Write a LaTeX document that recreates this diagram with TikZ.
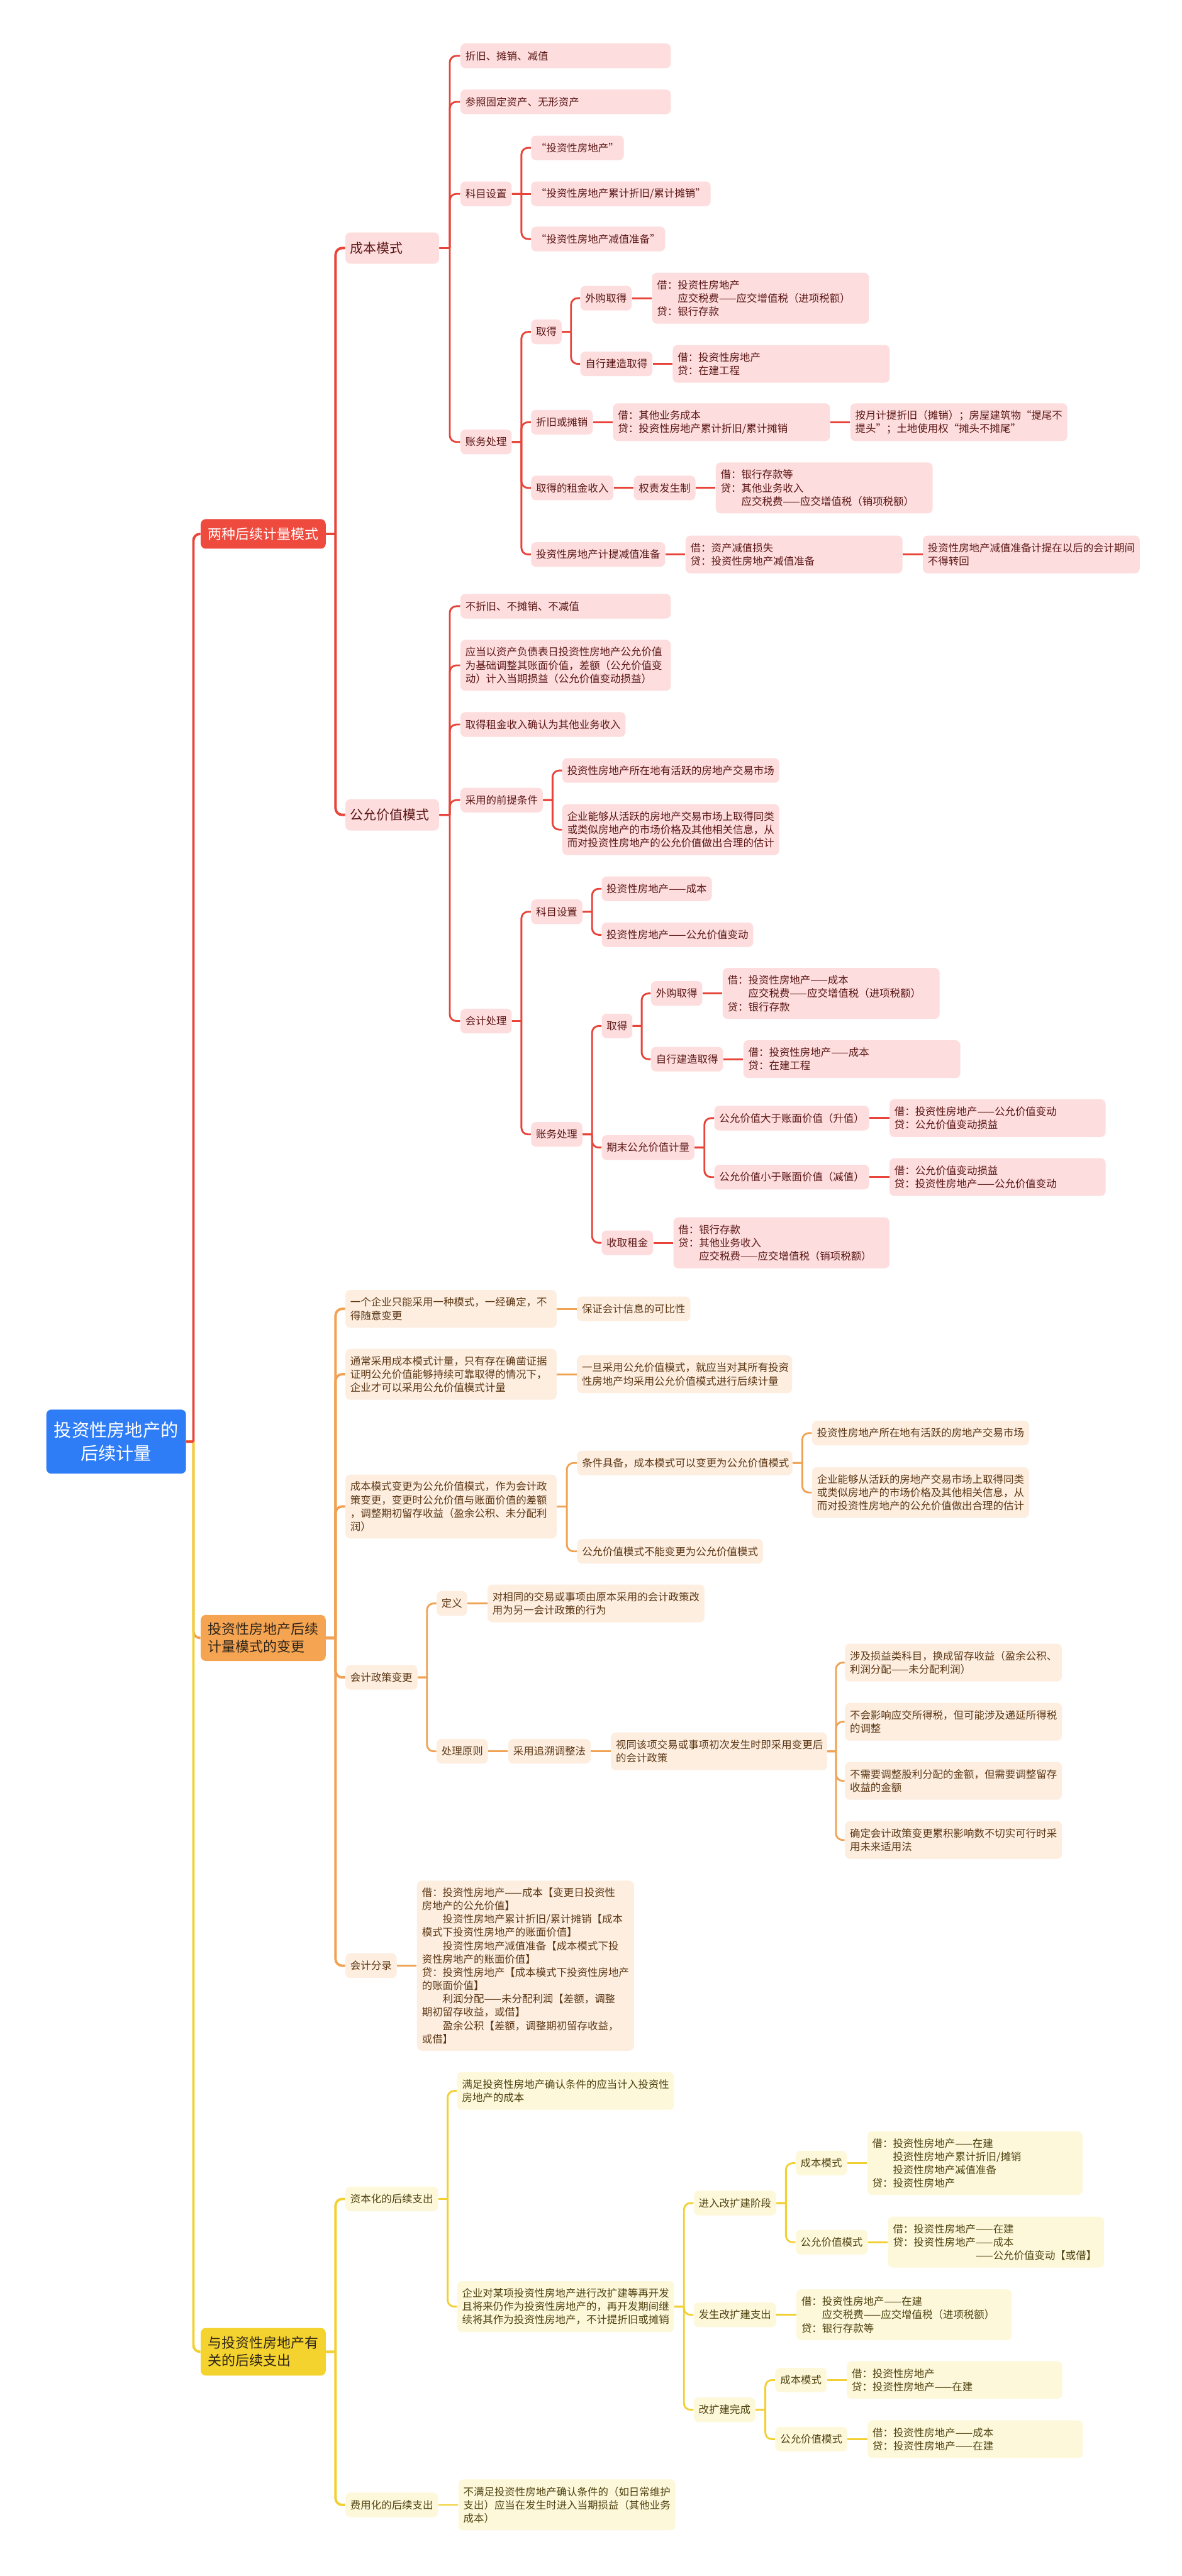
\documentclass[tikz,border=0pt]{standalone}
\usepackage{fontspec}
\setmainfont{Noto Sans CJK SC}
\usetikzlibrary{positioning, calc}
\definecolor{rootblue}{RGB}{46,125,246}
\definecolor{toptext}{RGB}{45,35,25}
\definecolor{redtop}{RGB}{239,74,62}
\definecolor{redline}{RGB}{232,68,58}
\definecolor{redfill}{RGB}{253,221,221}
\definecolor{redtext}{RGB}{92,22,22}
\definecolor{orangetop}{RGB}{245,165,82}
\definecolor{orangeline}{RGB}{240,163,85}
\definecolor{orangefill}{RGB}{253,238,224}
\definecolor{orangetext}{RGB}{92,55,20}
\definecolor{yellowtop}{RGB}{244,211,46}
\definecolor{yellowline}{RGB}{243,208,50}
\definecolor{yellowfill}{RGB}{254,248,218}
\definecolor{yellowtext}{RGB}{78,66,16}
\tikzset{
    basebox/.style={rectangle, rounded corners=3pt, anchor=west, align=left, inner xsep=3pt, inner ysep=2pt, minimum height=15pt, font=\fontsize{6.3}{8.1}\selectfont},
    redbox/.style={basebox, fill=redfill, text=redtext},
    orangebox/.style={basebox, fill=orangefill, text=orangetext},
    yellowbox/.style={basebox, fill=yellowfill, text=yellowtext},
    topbox/.style={rectangle, rounded corners=3pt, anchor=west, align=left, inner xsep=4.5pt, inner ysep=2pt, text width=67pt, font=\fontsize{8.4}{10.6}\selectfont},
    rootbox/.style={rectangle, rounded corners=3pt, anchor=west, align=center, inner xsep=4pt, text width=77pt, minimum height=39pt, fill=rootblue, text=white, font=\fontsize{10.8}{14}\selectfont},
    elbow/.style={to path={-- ($(\tikztostart)!0.5!(\tikztotarget |- \tikztostart)$) coordinate (elb) [rounded corners=4pt] (elb) |- (\tikztotarget)}},
}

\begin{document}
\begin{tikzpicture}[
    x=1pt, y=-1pt,
    redlink/.style={draw=redline, line width=1.1pt},
    orangelink/.style={draw=orangeline, line width=1.1pt},
    yellowlink/.style={draw=yellowline, line width=1.1pt},
    mainlink/.style={line width=1.5pt}
]
\path[fill=white, use as bounding box] (0,0) rectangle (719,1568);

% Root and first level
\node[rootbox] (root) at (28,877.5) {投资性房地产的\\后续计量};
\node[topbox, fill=redtop, text=white, minimum height=18pt] (twomodes) at (122,325) {两种后续计量模式};
\node[topbox, fill=orangetop, text=toptext, minimum height=28pt] (modechange) at (122,997) {投资性房地产后续\\计量模式的变更};
\node[topbox, fill=yellowtop, text=toptext, minimum height=29pt] (laterexp) at (122,1431.5) {与投资性房地产有\\关的后续支出};

% Two modes: cost mode
\node[redbox, text width=51pt, minimum height=19pt, font=\fontsize{8}{10}\selectfont] (costmode) at (210,151) {成本模式};
\node[redbox, text width=122pt] (c-depr) at (280,34) {折旧、摊销、减值};
\node[redbox, text width=122pt] (c-ref) at (280,62) {参照固定资产、无形资产};
\node[redbox] (c-acct) at (280,118) {科目设置};
\node[redbox] (c-acct1) at (323,90) {“投资性房地产”};
\node[redbox] (c-acct2) at (323,118) {“投资性房地产累计折旧/累计摊销”};
\node[redbox] (c-acct3) at (323,145.5) {“投资性房地产减值准备”};
\node[redbox] (c-book) at (280,269) {账务处理};
\node[redbox] (c-get) at (323,202) {取得};
\node[redbox] (c-buy) at (353,181.5) {外购取得};
\node[redbox, text width=126pt, minimum height=31pt, right=12pt of c-buy] (c-buy-je) {借：投资性房地产\\　　应交税费——应交增值税（进项税额）\\贷：银行存款};
\node[redbox] (c-self) at (353,221.5) {自行建造取得};
\node[redbox, text width=126pt, minimum height=23pt, right=12pt of c-self] (c-self-je) {借：投资性房地产\\贷：在建工程};
\node[redbox] (c-dep2) at (323,257) {折旧或摊销};
\node[redbox, text width=126pt, minimum height=23pt, right=12pt of c-dep2] (c-dep2-je) {借：其他业务成本\\贷：投资性房地产累计折旧/累计摊销};
\node[redbox, text width=126pt, minimum height=23pt, right=12pt of c-dep2-je] (c-dep2-note) {按月计提折旧（摊销）；房屋建筑物“提尾不\\提头”；土地使用权“摊头不摊尾”};
\node[redbox] (c-rent) at (323,297) {取得的租金收入};
\node[redbox, right=12pt of c-rent] (c-accrual) {权责发生制};
\node[redbox, text width=126pt, minimum height=31pt, right=12pt of c-accrual] (c-rent-je) {借：银行存款等\\贷：其他业务收入\\　　应交税费——应交增值税（销项税额）};
\node[redbox] (c-impair) at (323,337.5) {投资性房地产计提减值准备};
\node[redbox, text width=126pt, minimum height=23pt, right=12pt of c-impair] (c-impair-je) {借：资产减值损失\\贷：投资性房地产减值准备};
\node[redbox, text width=126pt, minimum height=23pt, right=12pt of c-impair-je] (c-impair-note) {投资性房地产减值准备计提在以后的会计期间\\不得转回};

% Two modes: fair value mode
\node[redbox, text width=51pt, minimum height=19pt, font=\fontsize{8}{10}\selectfont] (fairmode) at (210,496) {公允价值模式};
\node[redbox, text width=122pt] (f-nodep) at (280,369) {不折旧、不摊销、不减值};
\node[redbox, text width=122pt, minimum height=31pt] (f-adjust) at (280,405) {应当以资产负债表日投资性房地产公允价值\\为基础调整其账面价值，差额（公允价值变\\动）计入当期损益（公允价值变动损益）};
\node[redbox] (f-rent) at (280,441) {取得租金收入确认为其他业务收入};
\node[redbox] (f-cond) at (280,487) {采用的前提条件};
\node[redbox, text width=126pt] (f-cond1) at (342,469) {投资性房地产所在地有活跃的房地产交易市场};
\node[redbox, text width=126pt, minimum height=31pt] (f-cond2) at (342,505) {企业能够从活跃的房地产交易市场上取得同类\\或类似房地产的市场价格及其他相关信息，从\\而对投资性房地产的公允价值做出合理的估计};
\node[redbox] (f-proc) at (280,621.5) {会计处理};
\node[redbox] (f-acct) at (323,555) {科目设置};
\node[redbox] (f-acct1) at (366,541) {投资性房地产——成本};
\node[redbox] (f-acct2) at (366,569) {投资性房地产——公允价值变动};
\node[redbox] (f-book) at (323,690.5) {账务处理};
\node[redbox] (f-get) at (366,624.5) {取得};
\node[redbox] (f-buy) at (396,604.7) {外购取得};
\node[redbox, text width=126pt, minimum height=31pt, right=12pt of f-buy] (f-buy-je) {借：投资性房地产——成本\\　　应交税费——应交增值税（进项税额）\\贷：银行存款};
\node[redbox] (f-self) at (396,644.7) {自行建造取得};
\node[redbox, text width=126pt, minimum height=23pt, right=12pt of f-self] (f-self-je) {借：投资性房地产——成本\\贷：在建工程};
\node[redbox] (f-end) at (366,698.5) {期末公允价值计量};
\node[redbox] (f-up) at (434.5,680.6) {公允价值大于账面价值（升值）};
\node[redbox, text width=125.5pt, minimum height=23pt, right=12pt of f-up] (f-up-je) {借：投资性房地产——公允价值变动\\贷：公允价值变动损益};
\node[redbox] (f-down) at (434.5,716.5) {公允价值小于账面价值（减值）};
\node[redbox, text width=125.5pt, minimum height=23pt, right=12pt of f-down] (f-down-je) {借：公允价值变动损益\\贷：投资性房地产——公允价值变动};
\node[redbox] (f-rent2) at (366,756.5) {收取租金};
\node[redbox, text width=125.5pt, minimum height=31pt, right=12pt of f-rent2] (f-rent2-je) {借：银行存款\\贷：其他业务收入\\　　应交税费——应交增值税（销项税额）};

% Mode change
\node[orangebox, text width=122.5pt, minimum height=23pt] (m-one) at (210,796.7) {一个企业只能采用一种模式，一经确定，不\\得随意变更};
\node[orangebox, right=12pt of m-one] (m-one-why) {保证会计信息的可比性};
\node[orangebox, text width=122.5pt, minimum height=31pt] (m-usual) at (210,836.5) {通常采用成本模式计量，只有存在确凿证据\\证明公允价值能够持续可靠取得的情况下，\\企业才可以采用公允价值模式计量};
\node[orangebox, text width=125pt, minimum height=23pt, right=12pt of m-usual] (m-usual-all) {一旦采用公允价值模式，就应当对其所有投资\\性房地产均采用公允价值模式进行后续计量};
\node[orangebox, text width=122.5pt, minimum height=39pt] (m-change) at (210,917) {成本模式变更为公允价值模式，作为会计政\\策变更，变更时公允价值与账面价值的差额\\，调整期初留存收益（盈余公积、未分配利\\润）};
\node[orangebox, text width=125pt] (m-cond) at (351,890.5) {条件具备，成本模式可以变更为公允价值模式};
\node[orangebox, text width=126pt] (m-cond1) at (494,872.3) {投资性房地产所在地有活跃的房地产交易市场};
\node[orangebox, text width=126pt, minimum height=31pt] (m-cond2) at (494,908.5) {企业能够从活跃的房地产交易市场上取得同类\\或类似房地产的市场价格及其他相关信息，从\\而对投资性房地产的公允价值做出合理的估计};
\node[orangebox] (m-never) at (351,944.3) {公允价值模式不能变更为公允价值模式};
\node[orangebox] (m-policy) at (210,1021) {会计政策变更};
\node[orangebox] (m-def) at (265.5,976) {定义};
\node[orangebox, text width=126pt, minimum height=23pt, right=12pt of m-def] (m-def-txt) {对相同的交易或事项由原本采用的会计政策改\\用为另一会计政策的行为};
\node[orangebox] (m-rule) at (265.5,1066) {处理原则};
\node[orangebox, right=12pt of m-rule] (m-retro) {采用追溯调整法};
\node[orangebox, text width=125.5pt, minimum height=23pt, right=12pt of m-retro] (m-retro-txt) {视同该项交易或事项初次发生时即采用变更后\\的会计政策};
\node[orangebox, text width=126pt, minimum height=23pt] (m-r1) at (514,1012) {涉及损益类科目，换成留存收益（盈余公积、\\利润分配——未分配利润）};
\node[orangebox, text width=126pt, minimum height=23pt] (m-r2) at (514,1048) {不会影响应交所得税，但可能涉及递延所得税\\的调整};
\node[orangebox, text width=126pt, minimum height=23pt] (m-r3) at (514,1084) {不需要调整股利分配的金额，但需要调整留存\\收益的金额};
\node[orangebox, text width=126pt, minimum height=23pt] (m-r4) at (514,1120) {确定会计政策变更累积影响数不切实可行时采\\用未来适用法};
\node[orangebox] (m-entry) at (210,1196.5) {会计分录};
\node[orangebox, text width=126pt, minimum height=103.5pt, right=12pt of m-entry] (m-entry-je) {借：投资性房地产——成本【变更日投资性\\房地产的公允价值】\\　　投资性房地产累计折旧/累计摊销【成本\\模式下投资性房地产的账面价值】\\　　投资性房地产减值准备【成本模式下投\\资性房地产的账面价值】\\贷：投资性房地产【成本模式下投资性房地产\\的账面价值】\\　　利润分配——未分配利润【差额，调整\\期初留存收益，或借】\\　　盈余公积【差额，调整期初留存收益，\\或借】};

% Later expenditure
\node[yellowbox] (y-cap) at (210,1338.5) {资本化的后续支出};
\node[yellowbox, text width=126pt, minimum height=23pt] (y-meet) at (278,1272.7) {满足投资性房地产确认条件的应当计入投资性\\房地产的成本};
\node[yellowbox, text width=126pt, minimum height=31pt] (y-redev) at (278,1404) {企业对某项投资性房地产进行改扩建等再开发\\且将来仍作为投资性房地产的，再开发期间继\\续将其作为投资性房地产，不计提折旧或摊销};
\node[yellowbox] (y-enter) at (422,1341) {进入改扩建阶段};
\node[yellowbox] (y-enter-cost) at (484,1316.7) {成本模式};
\node[yellowbox, text width=125pt, minimum height=38.7pt, right=12pt of y-enter-cost] (y-enter-cost-je) {借：投资性房地产——在建\\　　投资性房地产累计折旧/摊销\\　　投资性房地产减值准备\\贷：投资性房地产};
\node[yellowbox] (y-enter-fair) at (484,1364.8) {公允价值模式};
\node[yellowbox, text width=125.5pt, minimum height=31pt, right=12pt of y-enter-fair] (y-enter-fair-je) {借：投资性房地产——在建\\贷：投资性房地产——成本\\\hphantom{贷：投资性房地产}——公允价值变动【或借】};
\node[yellowbox] (y-spend) at (422,1409) {发生改扩建支出};
\node[yellowbox, text width=125pt, minimum height=31pt, right=12pt of y-spend] (y-spend-je) {借：投资性房地产——在建\\　　应交税费——应交增值税（进项税额）\\贷：银行存款等};
\node[yellowbox] (y-done) at (422,1466.8) {改扩建完成};
\node[yellowbox] (y-done-cost) at (471.6,1448.7) {成本模式};
\node[yellowbox, text width=125pt, minimum height=23pt, right=12pt of y-done-cost] (y-done-cost-je) {借：投资性房地产\\贷：投资性房地产——在建};
\node[yellowbox] (y-done-fair) at (471.6,1484.7) {公允价值模式};
\node[yellowbox, text width=125pt, minimum height=23pt, right=12pt of y-done-fair] (y-done-fair-je) {借：投资性房地产——成本\\贷：投资性房地产——在建};
\node[yellowbox] (y-exp) at (210,1524.7) {费用化的后续支出};
\node[yellowbox, text width=126pt, minimum height=31pt, right=12pt of y-exp] (y-exp-txt) {不满足投资性房地产确认条件的（如日常维护\\支出）应当在发生时进入当期损益（其他业务\\成本）};

% Links from the root
\draw[orangelink, mainlink] (root.east) to[elbow] (modechange.west);
\draw[yellowlink, mainlink] (root.east) to[elbow] (laterexp.west);
\draw[redlink, mainlink] (root.east) to[elbow] (twomodes.west);

% Red links
\draw[redlink, mainlink] (twomodes.east) to[elbow] (costmode.west);
\draw[redlink, mainlink] (twomodes.east) to[elbow] (fairmode.west);
\draw[redlink] (costmode.east) to[elbow] (c-depr.west);
\draw[redlink] (costmode.east) to[elbow] (c-ref.west);
\draw[redlink] (costmode.east) to[elbow] (c-acct.west);
\draw[redlink] (costmode.east) to[elbow] (c-book.west);
\draw[redlink] (c-acct.east) to[elbow] (c-acct1.west);
\draw[redlink] (c-acct.east) -- (c-acct2.west);
\draw[redlink] (c-acct.east) to[elbow] (c-acct3.west);
\draw[redlink] (c-book.east) to[elbow] (c-get.west);
\draw[redlink] (c-book.east) to[elbow] (c-dep2.west);
\draw[redlink] (c-book.east) to[elbow] (c-rent.west);
\draw[redlink] (c-book.east) to[elbow] (c-impair.west);
\draw[redlink] (c-get.east) to[elbow] (c-buy.west);
\draw[redlink] (c-get.east) to[elbow] (c-self.west);
\draw[redlink] (c-buy) -- (c-buy-je);
\draw[redlink] (c-self) -- (c-self-je);
\draw[redlink] (c-dep2) -- (c-dep2-je);
\draw[redlink] (c-dep2-je) -- (c-dep2-note);
\draw[redlink] (c-rent) -- (c-accrual);
\draw[redlink] (c-accrual) -- (c-rent-je);
\draw[redlink] (c-impair) -- (c-impair-je);
\draw[redlink] (c-impair-je) -- (c-impair-note);
\draw[redlink] (fairmode.east) to[elbow] (f-nodep.west);
\draw[redlink] (fairmode.east) to[elbow] (f-adjust.west);
\draw[redlink] (fairmode.east) to[elbow] (f-rent.west);
\draw[redlink] (fairmode.east) to[elbow] (f-cond.west);
\draw[redlink] (fairmode.east) to[elbow] (f-proc.west);
\draw[redlink] (f-cond.east) to[elbow] (f-cond1.west);
\draw[redlink] (f-cond.east) to[elbow] (f-cond2.west);
\draw[redlink] (f-proc.east) to[elbow] (f-acct.west);
\draw[redlink] (f-proc.east) to[elbow] (f-book.west);
\draw[redlink] (f-acct.east) to[elbow] (f-acct1.west);
\draw[redlink] (f-acct.east) to[elbow] (f-acct2.west);
\draw[redlink] (f-book.east) to[elbow] (f-get.west);
\draw[redlink] (f-book.east) to[elbow] (f-end.west);
\draw[redlink] (f-book.east) to[elbow] (f-rent2.west);
\draw[redlink] (f-get.east) to[elbow] (f-buy.west);
\draw[redlink] (f-get.east) to[elbow] (f-self.west);
\draw[redlink] (f-buy) -- (f-buy-je);
\draw[redlink] (f-self) -- (f-self-je);
\draw[redlink] (f-end.east) to[elbow] (f-up.west);
\draw[redlink] (f-end.east) to[elbow] (f-down.west);
\draw[redlink] (f-up) -- (f-up-je);
\draw[redlink] (f-down) -- (f-down-je);
\draw[redlink] (f-rent2) -- (f-rent2-je);

% Orange links
\draw[orangelink, mainlink] (modechange.east) to[elbow] (m-one.west);
\draw[orangelink, mainlink] (modechange.east) to[elbow] (m-usual.west);
\draw[orangelink, mainlink] (modechange.east) to[elbow] (m-change.west);
\draw[orangelink, mainlink] (modechange.east) to[elbow] (m-policy.west);
\draw[orangelink, mainlink] (modechange.east) to[elbow] (m-entry.west);
\draw[orangelink] (m-one) -- (m-one-why);
\draw[orangelink] (m-usual) -- (m-usual-all);
\draw[orangelink] (m-change.east) to[elbow] (m-cond.west);
\draw[orangelink] (m-change.east) to[elbow] (m-never.west);
\draw[orangelink] (m-cond.east) to[elbow] (m-cond1.west);
\draw[orangelink] (m-cond.east) to[elbow] (m-cond2.west);
\draw[orangelink] (m-policy.east) to[elbow] (m-def.west);
\draw[orangelink] (m-policy.east) to[elbow] (m-rule.west);
\draw[orangelink] (m-def) -- (m-def-txt);
\draw[orangelink] (m-rule) -- (m-retro);
\draw[orangelink] (m-retro) -- (m-retro-txt);
\draw[orangelink] (m-retro-txt.east) to[elbow] (m-r1.west);
\draw[orangelink] (m-retro-txt.east) to[elbow] (m-r2.west);
\draw[orangelink] (m-retro-txt.east) to[elbow] (m-r3.west);
\draw[orangelink] (m-retro-txt.east) to[elbow] (m-r4.west);
\draw[orangelink] (m-entry) -- (m-entry-je);

% Yellow links
\draw[yellowlink, mainlink] (laterexp.east) to[elbow] (y-cap.west);
\draw[yellowlink, mainlink] (laterexp.east) to[elbow] (y-exp.west);
\draw[yellowlink] (y-cap.east) to[elbow] (y-meet.west);
\draw[yellowlink] (y-cap.east) to[elbow] (y-redev.west);
\draw[yellowlink] (y-redev.east) to[elbow] (y-enter.west);
\draw[yellowlink] (y-redev.east) to[elbow] (y-spend.west);
\draw[yellowlink] (y-redev.east) to[elbow] (y-done.west);
\draw[yellowlink] (y-enter.east) to[elbow] (y-enter-cost.west);
\draw[yellowlink] (y-enter.east) to[elbow] (y-enter-fair.west);
\draw[yellowlink] (y-enter-cost) -- (y-enter-cost-je);
\draw[yellowlink] (y-enter-fair) -- (y-enter-fair-je);
\draw[yellowlink] (y-spend) -- (y-spend-je);
\draw[yellowlink] (y-done.east) to[elbow] (y-done-cost.west);
\draw[yellowlink] (y-done.east) to[elbow] (y-done-fair.west);
\draw[yellowlink] (y-done-cost) -- (y-done-cost-je);
\draw[yellowlink] (y-done-fair) -- (y-done-fair-je);
\draw[yellowlink] (y-exp) -- (y-exp-txt);

\end{tikzpicture}
\end{document}
